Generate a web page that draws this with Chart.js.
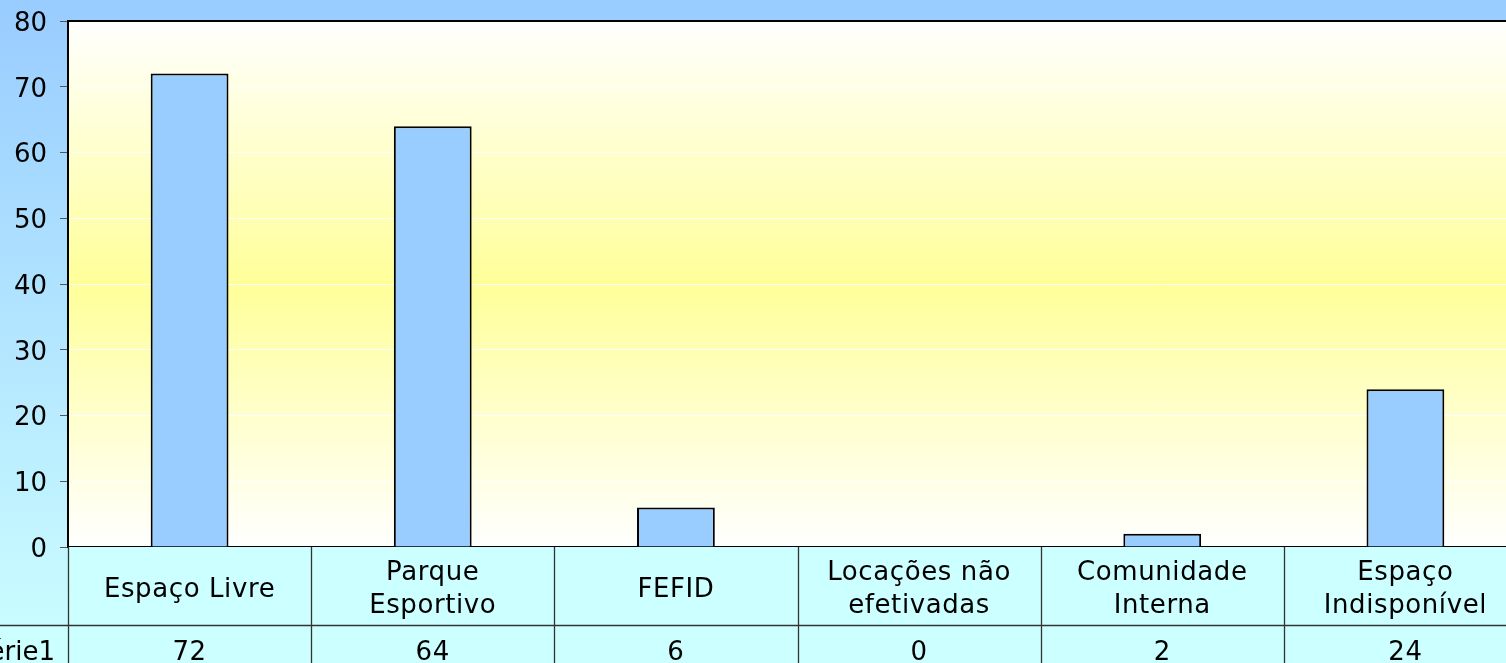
<!DOCTYPE html>
<html>
<head>
<meta charset="utf-8">
<script src="https://cdn.jsdelivr.net/npm/chart.js@4.4.1/dist/chart.umd.min.js"></script>
<style>
  html, body { margin: 0; padding: 0; overflow: hidden; background: #99ccff; }
  #wrap { position: relative; width: 1506px; height: 663px; overflow: hidden; }
  #c { position: absolute; left: 0; top: 0; }
</style>
</head>
<body>
<div id="wrap"><canvas id="c" width="1540" height="663"></canvas></div>
<script>
// ---- data ----
const categories = [
  ["Espaço Livre"],
  ["Parque", "Esportivo"],
  ["FEFID"],
  ["Locações não", "efetivadas"],
  ["Comunidade", "Interna"],
  ["Espaço", "Indisponível"]
];
const seriesName = "Série1";
const seriesValues = [72, 64, 6, 0, 2, 24];
const yMin = 0;
const yMax = 80;
const yStep = 10;

// ---- styling ----
const FONT = '"DejaVu Sans", Verdana, sans-serif';
const FONT_SIZE = 26;

const bgPlugin = {
  id: 'bg',
  beforeDraw(chart) {
    const { ctx, width, height, chartArea: a } = chart;
    ctx.save();
    const g = ctx.createLinearGradient(0, 0, 0, height);
    g.addColorStop(0, '#99ccff');
    g.addColorStop(1, '#ccffff');
    ctx.fillStyle = g;
    ctx.fillRect(0, 0, width, height);
    const p = ctx.createLinearGradient(0, a.top, 0, a.bottom);
    p.addColorStop(0, '#ffffff');
    p.addColorStop(0.5, '#ffff99');
    p.addColorStop(1, '#ffffff');
    ctx.fillStyle = p;
    ctx.fillRect(a.left, a.top, a.right - a.left, a.bottom - a.top);
    ctx.restore();
  }
};

const tablePlugin = {
  id: 'datatable',
  afterDraw(chart) {
    const { ctx, chartArea: a, height } = chart;
    const x = chart.scales.x;
    const n = categories.length;
    const cw = (a.right - a.left) / n;
    const row1Top = a.bottom;
    const row1Bot = a.bottom + 78;
    const row2Bot = height + 40;
    ctx.save();
    // fills
    ctx.fillStyle = '#ccffff';
    ctx.fillRect(a.left, row1Top, a.right - a.left + 20, row2Bot - row1Top);
    ctx.fillRect(-40, row1Bot, a.left + 40, row2Bot - row1Bot);
    // lines
    ctx.strokeStyle = '#333333';
    ctx.lineWidth = 1.3;
    ctx.beginPath();
    for (let i = 0; i <= n; i++) {
      const xx = Math.round(a.left + i * cw) + 0.5;
      ctx.moveTo(xx, row1Top);
      ctx.lineTo(xx, row2Bot);
    }
    ctx.moveTo(-40, row1Bot + 0.5);
    ctx.lineTo(a.right + 20, row1Bot + 0.5);
    ctx.stroke();
    // top / right border of plot
    ctx.strokeStyle = '#000';
    ctx.lineWidth = 2;
    ctx.beginPath();
    ctx.moveTo(a.left, a.top);
    ctx.lineTo(a.right, a.top);
    ctx.moveTo(a.right, a.top);
    ctx.lineTo(a.right, a.bottom);
    ctx.stroke();
    // text
    ctx.fillStyle = '#000';
    ctx.font = FONT_SIZE + 'px ' + FONT;
    ctx.letterSpacing = '0.6px';
    ctx.textAlign = 'center';
    ctx.textBaseline = 'middle';
    const lh = 33;
    const midY = (row1Top + row1Bot) / 2 + 4;
    categories.forEach((lines, i) => {
      const cx = x.getPixelForValue(i);
      const startY = midY - (lines.length - 1) * lh / 2;
      lines.forEach((t, j) => ctx.fillText(t, cx, startY + j * lh));
      ctx.fillText(String(seriesValues[i]), cx, row1Bot + 28);
    });
    ctx.letterSpacing = '0px';
    ctx.textAlign = 'right';
    ctx.fillText(seriesName, a.left - 13, row1Bot + 28);
    ctx.restore();
  }
};

new Chart(document.getElementById('c'), {
  type: 'bar',
  data: {
    labels: categories.map(l => l.join(' ')),
    datasets: [{
      label: seriesName,
      data: seriesValues,
      backgroundColor: '#99ccff',
      borderColor: '#000000',
      borderWidth: 2,
      borderSkipped: 'bottom',
      categoryPercentage: 1,
      barPercentage: 0.32
    }]
  },
  options: {
    responsive: false,
    animation: false,
    devicePixelRatio: 1,
    layout: { padding: { top: 21, right: 13, bottom: 116, left: 0 } },
    plugins: { legend: { display: false }, tooltip: { enabled: false } },
    scales: {
      x: {
        ticks: { display: false },
        grid: { display: false, drawTicks: false },
        border: { display: true, color: '#000', width: 2 },
        afterFit(s) { s.height = 0; s.paddingLeft = 0; s.paddingRight = 0; }
      },
      y: {
        min: yMin,
        max: yMax,
        ticks: {
          stepSize: yStep,
          color: '#000',
          padding: 13,
          labelOffset: 3,
          font: { family: FONT, size: FONT_SIZE }
        },
        grid: {
          color: (c) => (c.tick && (c.tick.value === yMin || c.tick.value === yMax)) ? 'rgba(0,0,0,0)' : '#ffffff',
          lineWidth: 1,
          drawTicks: true,
          tickLength: 8,
          tickColor: '#555555'
        },
        border: { display: true, color: '#000', width: 2 },
        afterFit(s) { s.width = 68; s.paddingTop = 0; s.paddingBottom = 0; }
      }
    }
  },
  plugins: [bgPlugin, tablePlugin]
});
</script>
</body>
</html>
